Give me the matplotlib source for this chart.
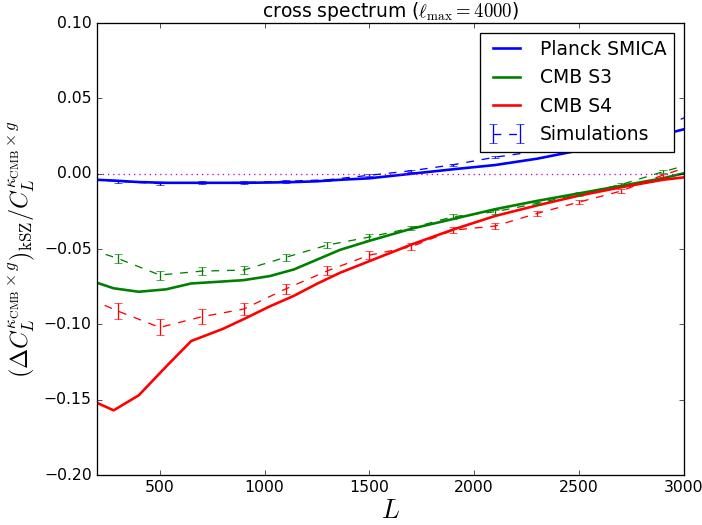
import numpy as np
import matplotlib
matplotlib.use('Agg')
import matplotlib.pyplot as plt

plt.style.use('classic')
plt.rcParams['figure.facecolor'] = 'white'
plt.rcParams['savefig.facecolor'] = 'white'
plt.rcParams['mathtext.fontset'] = 'cm'

## curvas teoricas
L_theo = [200, 280, 400, 530, 650, 800, 900, 1025, 1140, 1250, 1360, 1500,
          1700, 1900, 2100, 2300, 2500, 2700, 2900, 3000]
planck = [-0.004, -0.0045, -0.0055, -0.006, -0.006, -0.006, -0.006, -0.0058,
          -0.0055, -0.005, -0.004, -0.003, 0.0, 0.003, 0.0058, 0.010, 0.0155,
          0.020, 0.026, 0.0295]
s3 = [-0.0723, -0.076, -0.0783, -0.0767, -0.0728, -0.0715, -0.0706, -0.0679,
      -0.0635, -0.057, -0.0505, -0.0445, -0.0365, -0.030, -0.0235, -0.018,
      -0.013, -0.008, -0.003, 0.0003]
s4 = [-0.152, -0.157, -0.147, -0.128, -0.111, -0.103, -0.0965, -0.088, -0.081,
      -0.073, -0.0657, -0.058, -0.047, -0.037, -0.028, -0.021, -0.0145, -0.009,
      -0.004, -0.0024]

## simulaciones
L_sim = [100, 300, 500, 700, 900, 1100, 1300, 1500, 1700, 1900, 2100, 2300,
         2500, 2700, 2900, 3100]
sim_planck = [-0.003, -0.005, -0.0065, -0.006, -0.0058, -0.005, -0.004, -0.001,
              0.002, 0.006, 0.011, 0.015, 0.019, 0.024, 0.031, 0.043]
err_planck = [0.001, 0.001, 0.001, 0.001, 0.0009, 0.0009, 0.0008, 0.0008,
              0.0008, 0.0007, 0.0007, 0.0007, 0.0006, 0.0006, 0.0006, 0.0006]
sim_s3 = [-0.047, -0.0562, -0.0672, -0.0646, -0.0639, -0.0555, -0.0473, -0.042,
          -0.036, -0.0285, -0.0252, -0.0197, -0.0135, -0.0072, 0.0013, 0.009]
err_s3 = [0.003, 0.003, 0.003, 0.0028, 0.0025, 0.0022, 0.002, 0.0018, 0.0016,
          0.0015, 0.0013, 0.0012, 0.0011, 0.001, 0.001, 0.001]
sim_s4 = [-0.079, -0.0911, -0.102, -0.0949, -0.0898, -0.0765, -0.0644, -0.054,
          -0.0484, -0.0374, -0.0347, -0.0263, -0.0188, -0.0115, -0.0009, 0.008]
err_s4 = [0.0052, 0.0052, 0.0053, 0.005, 0.0042, 0.0036, 0.003, 0.0027, 0.0023,
          0.002, 0.0018, 0.0015, 0.0013, 0.0012, 0.001, 0.001]

fig = plt.figure(figsize=(702/94., 525/94.), dpi=94)
ax = fig.add_subplot(111)
fig.subplots_adjust(left=0.138, right=0.974, top=0.956, bottom=0.095)

ax.plot(L_theo, planck, 'b-', lw=2, label='Planck SMICA')
ax.plot(L_theo, s3, 'g-', lw=2, label='CMB S3')
ax.plot(L_theo, s4, 'r-', lw=2, label='CMB S4')

ax.errorbar(L_sim, sim_planck, yerr=err_planck, fmt='b--', lw=1, capsize=3,
            label='Simulations')
ax.errorbar(L_sim, sim_s3, yerr=err_s3, fmt='g--', lw=1, capsize=3)
ax.errorbar(L_sim, sim_s4, yerr=err_s4, fmt='r--', lw=1, capsize=3)

ax.axhline(0., color='m', ls=':', lw=1)

ax.set_xlim(200, 3000)
ax.set_ylim(-0.2, 0.1)
ax.set_xticks([500, 1000, 1500, 2000, 2500, 3000])
ax.set_yticks(np.arange(-0.2, 0.101, 0.05))
ax.set_xlabel(r'$L$', fontsize=20, labelpad=2)
ax.set_ylabel(r'$(\Delta C_L^{\kappa_{\rm CMB}\times g})_{\rm kSZ}/C_L^{\kappa_{\rm CMB}\times g}$',
              fontsize=18.5)
ax.set_title(r'cross spectrum ($\ell_{\max}=4000$)', fontsize=14.4)
ax.legend(loc='upper right', fontsize=14.4, handlelength=2, numpoints=2)

fig.savefig('out.png', dpi=94)
